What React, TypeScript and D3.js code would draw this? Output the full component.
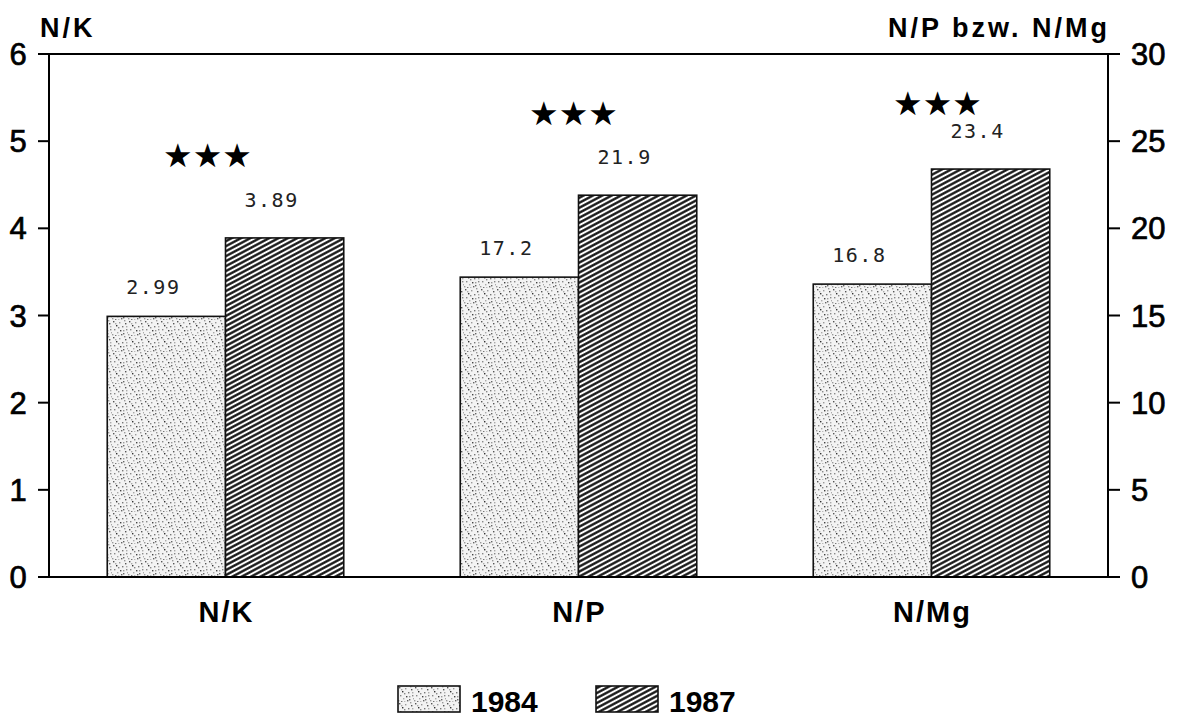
import React from "react";
import * as d3 from "d3";

// Nutrient ratios in needles, two sampling years
const categories = ["N/K", "N/P", "N/Mg"];
const axisOf = ["left", "right", "right"];
const values1984 = [2.99, 17.2, 16.8];
const values1987 = [3.89, 21.9, 23.4];
const years = ["1984", "1987"];
const leftTicks = [0, 1, 2, 3, 4, 5, 6];
const rightTicks = [0, 5, 10, 15, 20, 25, 30];
// significance markers, y in left-axis units, x offset from category centre
const starLevels = [4.84, 5.32, 5.44];
const starOffsets = [-18, -5, 6];

const W = 1184;
const H = 720;
const left = 49;
const right = 1108;
const top = 54;
const bottom = 577;

const sans = "'Liberation Sans', Arial, Helvetica, sans-serif";
const mono = "'DejaVu Sans Mono', 'Liberation Mono', monospace";

// stipple dots for the 1984 fill (x, y, grey)
const stipple: [number, number, string][] = [
  [1, 1, "#555"], [7, 2, "#999"], [4, 5, "#333"], [10, 6, "#777"],
  [2, 9, "#888"], [8, 10, "#444"], [5, 12, "#aaa"], [11, 13, "#666"],
  [0, 14, "#999"], [13, 3, "#555"], [14, 9, "#888"], [3, 15, "#777"],
  [6, 7, "#888"], [12, 0, "#999"], [9, 14, "#666"], [15, 12, "#aaa"],
  [3, 3, "#aaa"], [11, 10, "#999"], [6, 15, "#bbb"], [14, 6, "#aaa"],
];

export default function App() {
  const x = d3
    .scaleBand<string>()
    .domain(categories)
    .range([left, right])
    .paddingInner(0.33)
    .paddingOuter(0.165);
  const yL = d3.scaleLinear().domain([0, 6]).range([bottom, top]);
  const yR = d3.scaleLinear().domain([0, 30]).range([bottom, top]);
  const bw = x.bandwidth() / 2;
  const scaleFor = (i: number) => (axisOf[i] === "left" ? yL : yR);

  const series = [
    { year: years[0], values: values1984, fill: "url(#stip)", labelDy: -22 },
    { year: years[1], values: values1987, fill: "url(#hatch)", labelDy: -31 },
  ];

  return (
    <svg
      width={W}
      height={H}
      style={{ position: "absolute", left: 0, top: 0, background: "#fff" }}
    >
      <defs>
        <pattern id="stip" width={16} height={16} patternUnits="userSpaceOnUse">
          <rect width={16} height={16} fill="#f3f3f3" />
          {stipple.map(([px, py, c], k) => (
            <rect key={k} x={px} y={py} width={1.4} height={1.4} fill={c} />
          ))}
        </pattern>
        <pattern
          id="hatch"
          width={8}
          height={4.4}
          patternUnits="userSpaceOnUse"
          patternTransform="rotate(-28)"
        >
          <rect width={8} height={4.4} fill="#fff" />
          <line x1={0} y1={2.2} x2={8} y2={2.2} stroke="#111" strokeWidth={2.3} />
        </pattern>
      </defs>

      {/* bars */}
      {series.map((s, si) =>
        s.values.map((v, i) => {
          const y = scaleFor(i);
          const x0 = (x(categories[i]) as number) + si * bw;
          return (
            <rect
              key={`${si}-${i}`}
              x={x0}
              y={y(v)}
              width={bw}
              height={bottom - y(v)}
              fill={s.fill}
              stroke="#111"
              strokeWidth={1.6}
            />
          );
        })
      )}

      {/* value labels */}
      {series.map((s, si) =>
        s.values.map((v, i) => {
          const y = scaleFor(i);
          const cx = (x(categories[i]) as number) + si * bw + bw / 2 - 13;
          return (
            <text
              key={`l${si}-${i}`}
              x={cx}
              y={y(v) + s.labelDy}
              textAnchor="middle"
              fontFamily={mono}
              fontSize={20}
              letterSpacing={1.5}
              fill="#222"
            >
              {String(v)}
            </text>
          );
        })
      )}

      {/* significance stars */}
      {categories.map((c, i) => (
        <text
          key={`s${c}`}
          x={(x(c) as number) + x.bandwidth() / 2 + starOffsets[i]}
          y={yL(starLevels[i]) + 12}
          textAnchor="middle"
          fontFamily="'DejaVu Sans', sans-serif"
          fontSize={33}
          fill="#000"
        >
          ★★★
        </text>
      ))}

      {/* frame */}
      <line x1={left} y1={top} x2={left} y2={bottom} stroke="#000" strokeWidth={2} />
      <line x1={right} y1={top} x2={right} y2={bottom} stroke="#000" strokeWidth={2} />
      <line x1={38} y1={top} x2={1120} y2={top} stroke="#000" strokeWidth={2} />
      <line x1={38} y1={bottom} x2={1120} y2={bottom} stroke="#000" strokeWidth={2} />

      {/* left axis */}
      {leftTicks.map((t) => (
        <g key={`lt${t}`}>
          <line x1={38} x2={left} y1={yL(t)} y2={yL(t)} stroke="#000" strokeWidth={2} />
          <text
            x={18}
            y={yL(t) + 11}
            textAnchor="middle"
            fontFamily={sans}
            fontSize={31}
            stroke="#000"
            strokeWidth={0.7}
          >
            {t}
          </text>
        </g>
      ))}

      {/* right axis */}
      {rightTicks.map((t) => (
        <g key={`rt${t}`}>
          <line x1={right} x2={1120} y1={yR(t)} y2={yR(t)} stroke="#000" strokeWidth={2} />
          <text
            x={1131}
            y={yR(t) + 11}
            textAnchor="start"
            fontFamily={sans}
            fontSize={31}
            stroke="#000"
            strokeWidth={0.7}
          >
            {t}
          </text>
        </g>
      ))}

      {/* axis titles */}
      <text x={40} y={37} fontFamily={sans} fontWeight="bold" fontSize={27} letterSpacing={3}>
        N/K
      </text>
      <text
        x={1110}
        y={37}
        textAnchor="end"
        fontFamily={sans}
        fontWeight="bold"
        fontSize={27}
        letterSpacing={3}
      >
        N/P bzw. N/Mg
      </text>

      {/* category labels */}
      {categories.map((c) => (
        <text
          key={`c${c}`}
          x={(x(c) as number) + x.bandwidth() / 2 + 1}
          y={622}
          textAnchor="middle"
          fontFamily={sans}
          fontWeight="bold"
          fontSize={29}
          letterSpacing={2}
        >
          {c}
        </text>
      ))}

      {/* legend */}
      {series.map((s, si) => (
        <g key={`lg${si}`} transform={`translate(${398 + si * 198},686)`}>
          <rect width={62} height={26} fill={s.fill} stroke="#111" strokeWidth={1.6} />
          <text x={73} y={26} fontFamily={sans} fontWeight="bold" fontSize={30}>
            {s.year}
          </text>
        </g>
      ))}
    </svg>
  );
}
